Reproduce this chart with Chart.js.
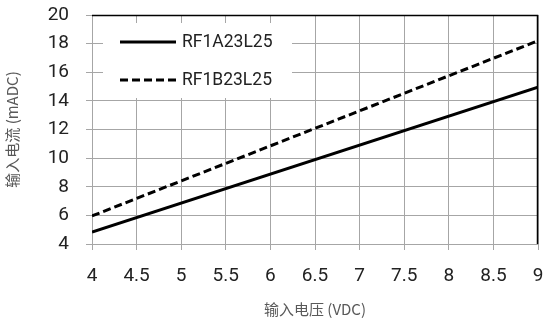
<!DOCTYPE html>
<html><head><meta charset="utf-8">
<script src="https://cdn.jsdelivr.net/npm/chart.js@4/dist/chart.umd.min.js"></script>
<style>html,body{margin:0;padding:0;background:#fff}#wrap{width:544px;height:324px}</style>
</head><body><div id="wrap"><canvas id="c" width="544" height="324"></canvas></div>
<script>
const seriesNames = ['RF1A23L25', 'RF1B23L25'];
const voltage = [4, 9];
const currentA = [4.84, 14.95];
const currentB = [5.96, 18.2];
const xTicks = [4, 4.5, 5, 5.5, 6, 6.5, 7, 7.5, 8, 8.5, 9];
const yTicks = [4, 6, 8, 10, 12, 14, 16, 18, 20];
const xTitle = '输入电压 (VDC)';
const yTitle = '输入电流 (mADC)';

const gridColor = '#a6a6a6';
const fontFam = "Roboto,'Noto Sans CJK SC',sans-serif";
const titleFam = "'Noto Sans CJK SC',sans-serif";

const frame = {
  id: 'frame',
  afterDraw(chart) {
    const {ctx, chartArea: a} = chart;
    ctx.save();
    ctx.strokeStyle = '#000';
    ctx.lineWidth = 1.5;
    ctx.beginPath();
    ctx.moveTo(a.left, a.top + 0.5);
    ctx.lineTo(a.right - 0.5, a.top + 0.5);
    ctx.lineTo(a.right - 0.5, a.bottom);
    ctx.stroke();
    ctx.restore();
  }
};

const boxLegend = {
  id: 'boxLegend',
  beforeDatasetsDraw(chart) {
    const {ctx, chartArea: a} = chart;
    const x0 = a.left + 11, y0 = a.top + 8, w = 189, h = 75;
    ctx.save();
    ctx.fillStyle = '#fff';
    ctx.fillRect(x0, y0, w, h);
    chart.data.datasets.forEach((ds, i) => {
      const y = y0 + 19 + i * 38;
      ctx.strokeStyle = ds.borderColor;
      ctx.lineWidth = 3;
      ctx.setLineDash(ds.borderDash || []);
      ctx.beginPath();
      ctx.moveTo(x0 + 17, y);
      ctx.lineTo(x0 + 73, y);
      ctx.stroke();
      ctx.setLineDash([]);
      ctx.fillStyle = '#222';
      ctx.font = "17.5px " + fontFam;
      ctx.textBaseline = 'middle';
      ctx.textAlign = 'left';
      ctx.fillText(ds.label, x0 + 79, y + 1);
    });
    ctx.restore();
  }
};

new Chart(document.getElementById('c'), {
  type: 'line',
  data: {
    datasets: [
      {label: seriesNames[0], data: voltage.map((v, i) => ({x: v, y: currentA[i]})),
       borderColor: '#000', borderWidth: 3, pointRadius: 0, fill: false},
      {label: seriesNames[1], data: voltage.map((v, i) => ({x: v, y: currentB[i]})),
       borderColor: '#000', borderWidth: 3, borderDash: [8, 4], pointRadius: 0, fill: false}
    ]
  },
  options: {
    responsive: false,
    animation: false,
    layout: {padding: {top: 15, right: 6, left: 0, bottom: 0}},
    plugins: {legend: {display: false}, tooltip: {enabled: false}},
    scales: {
      x: {
        type: 'linear', min: 4, max: 9,
        afterBuildTicks: s => { s.ticks = xTicks.map(v => ({value: v})); },
        afterFit: s => { s.height = 80; s.paddingLeft = 0; s.paddingRight = 0; },
        grid: {color: gridColor, lineWidth: 1, tickLength: 6, drawTicks: true},
        border: {color: gridColor, width: 1},
        ticks: {color: '#222', font: {family: fontFam, size: 19}, padding: 15, maxRotation: 0,
                callback: v => String(v)},
        title: {display: true, text: xTitle, color: '#595959', font: {family: titleFam, size: 15}, padding: {top: 4, bottom: 6}}
      },
      y: {
        type: 'linear', min: 4, max: 20,
        afterBuildTicks: s => { s.ticks = yTicks.map(v => ({value: v})); },
        afterFit: s => { s.width = 92; s.paddingTop = 0; s.paddingBottom = 0; },
        grid: {color: gridColor, lineWidth: 1, tickLength: 6, drawTicks: true},
        border: {color: gridColor, width: 1},
        ticks: {color: '#222', font: {family: fontFam, size: 19}, padding: 17,
                callback: v => String(v)},
        title: {display: true, text: yTitle, color: '#595959', font: {family: titleFam, size: 15}, padding: {top: 3, bottom: 4}}
      }
    }
  },
  plugins: [boxLegend, frame]
});
</script>
</body></html>
